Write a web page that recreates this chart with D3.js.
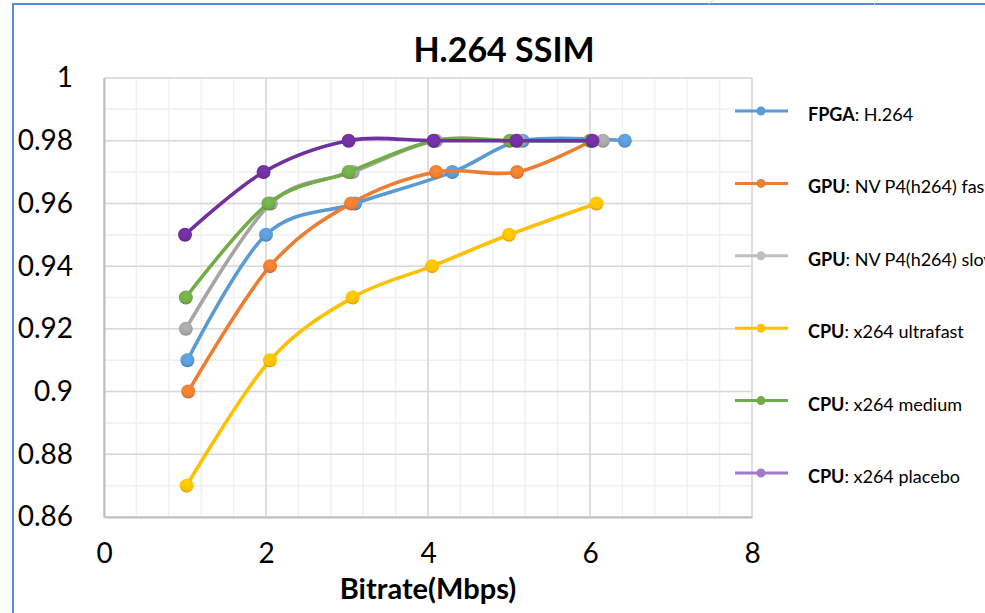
<!DOCTYPE html>
<html>
<head>
<meta charset="utf-8">
<script src="https://cdn.jsdelivr.net/npm/d3@7"></script>
<style>
  html, body { margin: 0; padding: 0; background: #fff; }
  svg { display: block; }
</style>
</head>
<body>
<div id="chart"></div>
<script>
// ---------- data ----------
const seriesNames = ["FPGA", "GPU", "GPU", "CPU", "CPU", "CPU"];
const seriesDetails = [": H.264", ": NV P4(h264) fast", ": NV P4(h264) slow", ": x264 ultrafast", ": x264 medium", ": x264 placebo"];

const fpgaX = [1.03, 2.0, 3.1, 4.3, 5.17, 6.43];
const fpgaY = [0.91, 0.95, 0.96, 0.97, 0.98, 0.98];

const gpuFastX = [1.04, 2.05, 3.05, 4.1, 5.1, 6.02];
const gpuFastY = [0.90, 0.94, 0.96, 0.97, 0.97, 0.98];

const gpuSlowX = [1.01, 2.06, 3.07, 4.1, 5.12, 6.16];
const gpuSlowY = [0.92, 0.96, 0.97, 0.98, 0.98, 0.98];

const ultrafastX = [1.02, 2.05, 3.07, 4.05, 5.0, 6.08];
const ultrafastY = [0.87, 0.91, 0.93, 0.94, 0.95, 0.96];

const mediumX = [1.01, 2.03, 3.02, 4.07, 5.01, 6.0];
const mediumY = [0.93, 0.96, 0.97, 0.98, 0.98, 0.98];

const placeboX = [1.0, 1.97, 3.02, 4.07, 5.09, 6.03];
const placeboY = [0.95, 0.97, 0.98, 0.98, 0.98, 0.98];

const xTicks = [0, 2, 4, 6, 8];
const yTicks = [0.86, 0.88, 0.9, 0.92, 0.94, 0.96, 0.98, 1];
const yTickLabels = ["0.86", "0.88", "0.9", "0.92", "0.94", "0.96", "0.98", "1"];

const titleText = "H.264 SSIM";
const xTitleText = "Bitrate(Mbps)";

// ---------- styles ----------
const colors = ["#5B9BD5", "#ED7D31", "#A5A5A5", "#FFC000", "#70AD47", "#7030A0"];
const legendColors = ["#5B9BD5", "#ED7D31", "#BFBFBF", "#FFC000", "#70AD47", "#A07CC8"];
const FONT = "Lato, 'Open Sans', sans-serif";

const series = seriesNames.map((n, i) => ({
  name: n, detail: seriesDetails[i], color: colors[i], legendColor: legendColors[i],
  x: [fpgaX, gpuFastX, gpuSlowX, ultrafastX, mediumX, placeboX][i],
  y: [fpgaY, gpuFastY, gpuSlowY, ultrafastY, mediumY, placeboY][i]
}));

const W = 985, H = 613;
const plot = { left: 104, right: 752, top: 78, bottom: 517 };

const svg = d3.select("#chart").append("svg").attr("width", W).attr("height", H);

// marker shading gradients
const defs = svg.append("defs");
colors.forEach((c, i) => {
  const gr = defs.append("radialGradient").attr("id", "mk" + i)
    .attr("cx", "50%").attr("cy", "35%").attr("r", "65%");
  gr.append("stop").attr("offset", "0%").attr("stop-color", d3.color(c).brighter(0.25));
  gr.append("stop").attr("offset", "75%").attr("stop-color", c);
  gr.append("stop").attr("offset", "100%").attr("stop-color", d3.color(c).darker(0.6));
});

// frame
svg.append("rect").attr("x", 13).attr("y", 4).attr("width", 1100).attr("height", 700)
  .attr("fill", "#fff").attr("stroke", "#5B8BD0").attr("stroke-width", 2);
[[713, 0, 709, 4], [878, 0, 874, 4]].forEach(d => {
  svg.append("line").attr("x1", d[0]).attr("y1", d[1]).attr("x2", d[2]).attr("y2", d[3])
    .attr("stroke", "#ddd").attr("stroke-width", 1);
});

const x = d3.scaleLinear().domain([0, 8]).range([plot.left, plot.right]);
const y = d3.scaleLinear().domain([0.86, 1]).range([plot.bottom, plot.top]);

// minor grid
const g = svg.append("g");
const xMinor = d3.range(0, 8.0001, 0.4);
const yMinor = d3.range(0, 15).map(i => 0.86 + i * 0.01);
g.selectAll(".xm").data(xMinor).join("line")
  .attr("x1", d => x(d)).attr("x2", d => x(d)).attr("y1", plot.top).attr("y2", plot.bottom)
  .attr("stroke", "#F0F0F0").attr("stroke-width", 1.5);
g.selectAll(".ym").data(yMinor).join("line")
  .attr("x1", plot.left).attr("x2", plot.right).attr("y1", d => y(d)).attr("y2", d => y(d))
  .attr("stroke", "#F0F0F0").attr("stroke-width", 1.5);
// major grid
g.selectAll(".xM").data(xTicks).join("line")
  .attr("x1", d => x(d)).attr("x2", d => x(d)).attr("y1", plot.top).attr("y2", plot.bottom)
  .attr("stroke", "#D9D9D9").attr("stroke-width", 1.5);
g.selectAll(".yM").data(yTicks).join("line")
  .attr("x1", plot.left).attr("x2", plot.right).attr("y1", d => y(d)).attr("y2", d => y(d))
  .attr("stroke", "#D9D9D9").attr("stroke-width", 1.5);

// axes
const xAxis = svg.append("g").attr("transform", `translate(0,${plot.bottom})`)
  .call(d3.axisBottom(x).tickValues(xTicks).tickSize(0).tickPadding(26).tickFormat(d3.format("d")));
const yAxis = svg.append("g").attr("transform", `translate(${plot.left},0)`)
  .call(d3.axisLeft(y).tickValues(yTicks).tickSize(0).tickPadding(31)
    .tickFormat((d, i) => yTickLabels[i]));
[xAxis, yAxis].forEach(a => {
  a.select(".domain").attr("stroke", "#BFBFBF").attr("stroke-width", 2);
  a.selectAll("text").attr("font-family", FONT).attr("font-size", 28).attr("fill", "#000");
});

// title & axis title
svg.append("text").attr("x", 504).attr("y", 62).attr("text-anchor", "middle")
  .attr("font-family", FONT).attr("font-weight", "bold").attr("font-size", 34).text(titleText);
svg.append("text").attr("x", 428).attr("y", 599).attr("text-anchor", "middle")
  .attr("font-family", FONT).attr("font-weight", "bold").attr("font-size", 29).text(xTitleText);

// lines
const line = d3.line().curve(d3.curveCardinal.tension(0))
  .x(d => x(d[0])).y(d => y(d[1]));
series.forEach((s, si) => {
  const pts = s.x.map((v, i) => [v, s.y[i]]);
  const sg = svg.append("g");
  sg.append("path").datum(pts).attr("d", line).attr("fill", "none")
    .attr("stroke", s.color).attr("stroke-width", 3.6).attr("stroke-linecap", "round");
  sg.selectAll("circle").data(pts).join("circle")
    .attr("cx", d => x(d[0])).attr("cy", d => y(d[1])).attr("r", 7)
    .attr("fill", `url(#mk${si})`);
});

// legend
const legendRows = d3.scalePoint().domain(d3.range(series.length)).range([111, 473]);
series.forEach((s, i) => {
  const ly = legendRows(i);
  const lg = svg.append("g");
  lg.append("line").attr("x1", 735).attr("x2", 788).attr("y1", ly).attr("y2", ly)
    .attr("stroke", s.legendColor).attr("stroke-width", 3);
  lg.append("circle").attr("cx", 761).attr("cy", ly).attr("r", 4.5).attr("fill", s.legendColor);
  const t = lg.append("text").attr("x", 808).attr("y", ly + 10)
    .attr("font-family", FONT).attr("font-size", 18).attr("fill", "#000");
  t.append("tspan").attr("font-weight", "bold").text(s.name);
  t.append("tspan").text(s.detail);
});
</script>
</body>
</html>
